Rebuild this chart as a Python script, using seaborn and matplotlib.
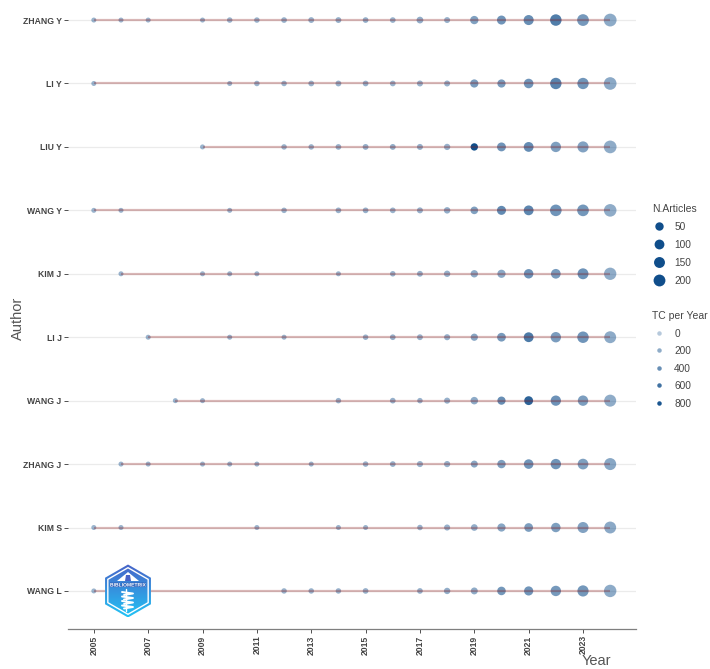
import numpy as np
import pandas as pd
import matplotlib
matplotlib.use("Agg")
import matplotlib.pyplot as plt
import matplotlib.patheffects as pe
from matplotlib.colors import LinearSegmentedColormap, to_rgb
from matplotlib.lines import Line2D
from matplotlib.patches import RegularPolygon, Polygon
import seaborn as sns

# ---------------- data: one set of arrays per author ----------------
authors = ["ZHANG Y", "LI Y", "LIU Y", "WANG Y", "KIM J",
           "LI J", "WANG J", "ZHANG J", "KIM S", "WANG L"]

zhang_y_years = [2005, 2006, 2007, 2009, 2010, 2011, 2012, 2013, 2014, 2015, 2016, 2017, 2018, 2019, 2020, 2021, 2022, 2023, 2024]
zhang_y_art   = [1, 1, 1, 1, 2, 2, 3, 4, 4, 3, 3, 14, 5, 48, 70, 110, 180, 195, 260]
zhang_y_tcpy  = [150, 140, 140, 150, 150, 150, 160, 160, 170, 180, 160, 190, 160, 280, 360, 400, 520, 330, 210]

li_y_years = [2005, 2010, 2011, 2012, 2013, 2014, 2015, 2016, 2017, 2018, 2019, 2020, 2021, 2022, 2023, 2024]
li_y_art   = [1, 1, 2, 2, 3, 4, 3, 3, 5, 5, 45, 45, 90, 175, 170, 250]
li_y_tcpy  = [150, 140, 140, 150, 150, 160, 170, 150, 160, 170, 310, 310, 360, 480, 360, 220]

liu_y_years = [2009, 2012, 2013, 2014, 2015, 2016, 2017, 2018, 2019, 2020, 2021, 2022, 2023, 2024]
liu_y_art   = [1, 2, 2, 3, 4, 4, 5, 8, 25, 65, 100, 125, 160, 255]
liu_y_tcpy  = [140, 150, 150, 160, 170, 180, 180, 160, 850, 360, 420, 290, 270, 200]

wang_y_years = [2005, 2006, 2010, 2012, 2014, 2015, 2016, 2017, 2018, 2019, 2020, 2021, 2022, 2023, 2024]
wang_y_art   = [1, 1, 1, 2, 3, 3, 3, 5, 10, 30, 70, 100, 185, 190, 245]
wang_y_tcpy  = [140, 140, 150, 150, 160, 170, 150, 170, 190, 280, 430, 460, 360, 340, 200]

kim_j_years = [2006, 2009, 2010, 2011, 2014, 2016, 2017, 2018, 2019, 2020, 2021, 2022, 2023, 2024]
kim_j_art   = [1, 1, 1, 1, 1, 2, 4, 9, 25, 45, 85, 95, 150, 230]
kim_j_tcpy  = [140, 140, 150, 140, 150, 160, 170, 170, 210, 220, 380, 320, 380, 200]

li_j_years = [2007, 2010, 2012, 2015, 2016, 2017, 2018, 2019, 2020, 2021, 2022, 2023, 2024]
li_j_art   = [1, 1, 1, 2, 3, 4, 6, 22, 60, 100, 125, 180, 205]
li_j_tcpy  = [140, 150, 150, 160, 170, 160, 170, 240, 320, 540, 310, 360, 210]

wang_j_years = [2008, 2009, 2014, 2016, 2017, 2018, 2019, 2020, 2021, 2022, 2023, 2024]
wang_j_art   = [1, 1, 2, 3, 2, 6, 28, 45, 65, 120, 125, 210]
wang_j_tcpy  = [150, 150, 160, 170, 160, 170, 210, 400, 700, 380, 300, 200]

zhang_j_years = [2006, 2007, 2009, 2010, 2011, 2013, 2015, 2016, 2017, 2018, 2019, 2020, 2021, 2022, 2023, 2024]
zhang_j_art   = [1, 1, 1, 1, 1, 1, 2, 3, 6, 7, 18, 50, 90, 125, 140, 210]
zhang_j_tcpy  = [140, 140, 140, 150, 150, 160, 160, 170, 150, 160, 240, 290, 360, 370, 290, 240]

kim_s_years = [2005, 2006, 2011, 2014, 2015, 2017, 2018, 2019, 2020, 2021, 2022, 2023, 2024]
kim_s_art   = [1, 1, 1, 1, 1, 2, 6, 13, 45, 60, 85, 155, 205]
kim_s_tcpy  = [140, 140, 140, 150, 150, 160, 170, 190, 240, 300, 290, 270, 220]

wang_l_years = [2005, 2012, 2013, 2014, 2015, 2017, 2018, 2019, 2020, 2021, 2022, 2023, 2024]
wang_l_art   = [1, 2, 2, 2, 3, 3, 9, 17, 55, 75, 125, 165, 235]
wang_l_tcpy  = [140, 150, 150, 160, 160, 170, 190, 200, 340, 360, 330, 340, 210]

year_ticks = list(range(2005, 2024, 2))
size_breaks = [50, 100, 150, 200]
tcpy_breaks = [0, 200, 400, 600, 800]

# ---------------- tidy table ----------------
series = [
    (zhang_y_years, zhang_y_art, zhang_y_tcpy),
    (li_y_years, li_y_art, li_y_tcpy),
    (liu_y_years, liu_y_art, liu_y_tcpy),
    (wang_y_years, wang_y_art, wang_y_tcpy),
    (kim_j_years, kim_j_art, kim_j_tcpy),
    (li_j_years, li_j_art, li_j_tcpy),
    (wang_j_years, wang_j_art, wang_j_tcpy),
    (zhang_j_years, zhang_j_art, zhang_j_tcpy),
    (kim_s_years, kim_s_art, kim_s_tcpy),
    (wang_l_years, wang_l_art, wang_l_tcpy),
]
frames = []
for row, (name, (yrs, art, tc)) in enumerate(zip(authors, series)):
    frames.append(pd.DataFrame({"author": name, "row": row, "year": yrs,
                                "articles": art, "tcpy": tc}))
df = pd.concat(frames, ignore_index=True)

# ---------------- styling helpers ----------------
DPI = 100
BLUE = "#104E8B"          # dodgerblue4
RED = "#8B1A1A"           # firebrick4
TXT = "#444444"
FONT = ["Liberation Sans", "DejaVu Sans"]

n_min, n_max = df["articles"].min(), df["articles"].max()
t_lo, t_hi = 0, df["tcpy"].max()


def dot_pt(n):
    """Point diameter in points: diameter grows with sqrt of rescaled count."""
    px = 5.0 + 7.8 * np.sqrt((n - n_min) / (n_max - n_min))
    return px * 72 / DPI


def alpha_of(t):
    return 0.3 + 0.7 * (t - t_lo) / (t_hi - t_lo)


r, g, b = to_rgb(BLUE)
alpha_cmap = LinearSegmentedColormap.from_list(
    "blue_alpha", [(r, g, b, 0.3), (r, g, b, 1.0)])
size_map = {n: dot_pt(n) ** 2 for n in sorted(df["articles"].unique())}

# ---------------- figure ----------------
sns.set_theme(style="white")
plt.rcParams["font.family"] = FONT

fig = plt.figure(figsize=(7.10, 6.69), dpi=DPI)
W, H = 710, 669
ax = fig.add_axes([68 / W, 1 - 629 / H, (636 - 68) / W, (629 + 18) / H])

# horizontal guide per author
ax.set_yticks(range(len(authors)))
ax.yaxis.grid(True, color="#EBEBEB", linewidth=0.9)
ax.xaxis.grid(False)
ax.set_axisbelow(True)

sns.scatterplot(data=df, x="year", y="row", hue="tcpy", palette=alpha_cmap,
                hue_norm=(t_lo, t_hi), size="articles", sizes=size_map,
                linewidth=0, edgecolor="none", legend=False, ax=ax, zorder=3)

# active span of each author
spans = df.groupby("row")["year"].agg(["min", "max"])
ax.hlines(spans.index, spans["min"], spans["max"], color=RED, alpha=0.3,
          linewidth=1.6, zorder=4)

ax.set_xlim(2004.05, 2024.95)
ax.set_ylim(len(authors) - 0.4, -0.6)
ax.set_xticks(year_ticks)
ax.set_xticklabels([str(y) for y in year_ticks], rotation=90,
                   fontweight="bold", fontsize=6.2, color=TXT, family=FONT)
ax.set_yticklabels(authors, fontweight="bold", fontsize=6.2, color=TXT, family=FONT)
ax.set_xlabel("")
ax.set_ylabel("")
for side in ["top", "right", "left"]:
    ax.spines[side].set_visible(False)
ax.spines["bottom"].set_color("#7F7F7F")
ax.spines["bottom"].set_linewidth(0.9)
ax.tick_params(axis="both", which="major", length=2.75, width=0.6,
               color="#333333", pad=1.8, bottom=True, left=True)
ax.patch.set_alpha(0)

fig.text(18 / W, 1 - 318 / H, "Author", rotation=90, ha="center", va="center",
         fontsize=10.5, color="#555555", family=FONT)
fig.text(596 / W, 1 - 661 / H, "Year", ha="center", va="center",
         fontsize=10.5, color="#555555", family=FONT)

# ---------------- legends ----------------
size_handles = [Line2D([], [], marker="o", ls="", color=BLUE,
                       markersize=dot_pt(v), markeredgewidth=0) for v in size_breaks]
leg1 = fig.legend(size_handles, [str(v) for v in size_breaks], title="N.Articles",
                  loc="upper left", bbox_to_anchor=(652 / W, 1 - 204 / H),
                  frameon=False, fontsize=7.3, title_fontsize=7.5,
                  borderpad=0, borderaxespad=0, handlelength=1.45,
                  handletextpad=0.75, labelspacing=0.78, alignment="left")
alpha_handles = [Line2D([], [], marker="o", ls="", markeredgewidth=0,
                        color=(r, g, b, min(alpha_of(v), 1.0)),
                        markersize=4.5 * 72 / DPI) for v in tcpy_breaks]
leg2 = fig.legend(alpha_handles, [str(v) for v in tcpy_breaks], title="TC per Year",
                  loc="upper left", bbox_to_anchor=(652 / W, 1 - 311 / H),
                  frameon=False, fontsize=7.3, title_fontsize=7.5,
                  borderpad=0, borderaxespad=0, handlelength=1.45,
                  handletextpad=0.75, labelspacing=0.74, alignment="left")
for lg in (leg1, leg2):
    lg.get_title().set_color(TXT)
    for t in lg.get_texts():
        t.set_color(TXT)

# ---------------- package badge ----------------
lx, ly, lw, lh = 100, 562, 56, 60
lax = fig.add_axes([lx / W, 1 - (ly + lh) / H, lw / W, lh / H])
lax.set_xlim(0, lw)
lax.set_ylim(0, lh)
lax.axis("off")
cx, cy, rad = 28, 31, 26.5
grad = np.linspace(0, 1, 256).reshape(-1, 1)
top_c = np.array(to_rgb("#4863c8"))
bot_c = np.array(to_rgb("#22c3f5"))
img = top_c[None, None, :] * (1 - grad[..., None]) + bot_c[None, None, :] * grad[..., None]
img = np.repeat(img, 4, axis=1)
hexagon = RegularPolygon((cx, cy), numVertices=6, radius=rad, orientation=0,
                         facecolor="none", edgecolor="none")
lax.add_patch(hexagon)
im = lax.imshow(img, extent=(cx - rad, cx + rad, cy - rad, cy + rad),
                origin="upper", aspect="auto", zorder=1)
im.set_clip_path(hexagon)
lax.add_patch(RegularPolygon((cx, cy), numVertices=6, radius=rad - 3.2,
                             orientation=0, facecolor="none",
                             edgecolor="white", linewidth=1.0, zorder=2))
# roof / tower shape
lax.add_patch(Polygon([[cx - 11, cy + 10], [cx, cy + 19], [cx + 11, cy + 10]],
                      closed=True, facecolor="white", edgecolor="none", zorder=2))
lax.add_patch(Polygon([[cx - 3, cy + 10], [cx - 2, cy + 16], [cx + 2, cy + 16], [cx + 3, cy + 10]],
                      closed=True, facecolor="#4863c8", edgecolor="none", zorder=3))
lax.text(cx, cy + 6, "BIBLIOMETRIX", ha="center", va="center", fontsize=3.6,
         fontweight="bold", color="white", family=FONT, zorder=4,
         path_effects=[pe.withStroke(linewidth=0.8, foreground="#2d5fb8")])
# stair ribbon
for k in range(4):
    yk = cy - 1 - k * 4.5
    lax.plot([cx - 6, cx + 5, cx - 4], [yk, yk - 1.5, yk - 3], color="white",
             linewidth=1.4, solid_capstyle="round", zorder=3)
lax.plot([cx - 2, cx - 2], [cy - 20, cy + 2], color="white", linewidth=1.0, zorder=3)

fig.savefig("out.png", dpi=DPI, facecolor="white")
